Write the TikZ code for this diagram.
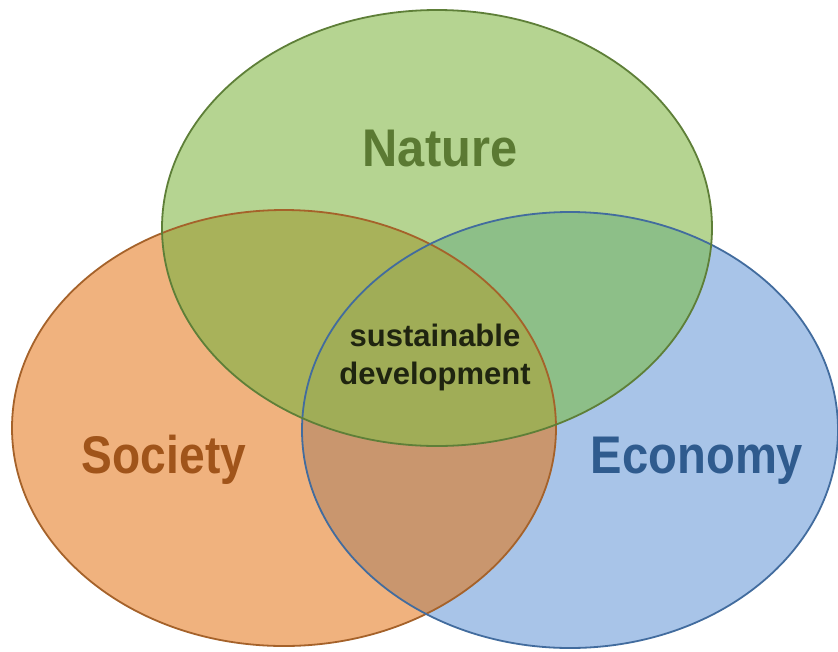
\documentclass[tikz,border=0pt]{standalone}
\usepackage{fontspec}
\setmainfont{Liberation Sans}
\definecolor{natfill}{HTML}{B5D491}
\definecolor{socfill}{HTML}{F0B27E}
\definecolor{ecofill}{HTML}{A8C4E8}
\definecolor{secol}{HTML}{C9966E}
\definecolor{nscol}{HTML}{A8B25A}
\definecolor{necol}{HTML}{8DBF88}
\definecolor{allcol}{HTML}{A0AD57}
\definecolor{natline}{HTML}{5E7F38}
\definecolor{socline}{HTML}{A5622A}
\definecolor{ecoline}{HTML}{426C9E}
\definecolor{nattext}{HTML}{5B7A33}
\definecolor{soctext}{HTML}{A0541A}
\definecolor{ecotext}{HTML}{2F5B8E}
\definecolor{sdtext}{HTML}{1F2410}
\tikzset{
  outline/.style={line width=1.8pt},
  biglabel/.style={anchor=base, inner sep=0pt, font=\bfseries\fontsize{53}{53}\selectfont},
  smalllabel/.style={anchor=base, inner sep=0pt, text=sdtext, font=\bfseries\fontsize{31}{31}\selectfont}
}
\begin{document}
\begin{tikzpicture}[x=1pt,y=-1pt]
\useasboundingbox (0,0) rectangle (838,651);
\fill[white] (0,0) rectangle (838,651);
\def\natE{(437,228) ellipse [x radius=275,y radius=218]}
\def\socE{(284,428) ellipse [x radius=272,y radius=218]}
\def\ecoE{(570,430) ellipse [x radius=268,y radius=218]}
% base fills
\fill[socfill] \socE;
\fill[ecofill] \ecoE;
\fill[natfill] \natE;
% overlaps
\begin{scope}
  \clip \socE;
  \fill[secol] \ecoE;
\end{scope}
\begin{scope}
  \clip \natE;
  \fill[nscol] \socE;
  \fill[necol] \ecoE;
\end{scope}
\begin{scope}
  \clip \natE;
  \clip \socE;
  \fill[allcol] \ecoE;
\end{scope}
% outlines
\draw[outline, socline] \socE;
\draw[outline, ecoline] \ecoE;
\draw[outline, natline] \natE;
% labels
\node[biglabel, text=nattext] (nature) at (440,166) {\scalebox{0.92}[1]{Nature}};
\node[biglabel, text=soctext] (society) at (164,473) {\scalebox{0.87}[1]{Society}};
\node[biglabel, text=ecotext] (economy) at (697,473) {\scalebox{0.89}[1]{Economy}};
\node[smalllabel] (sd1) at (435,346) {sustainable};
\node[smalllabel] (sd2) at (435,384) {development};
\end{tikzpicture}
\end{document}
